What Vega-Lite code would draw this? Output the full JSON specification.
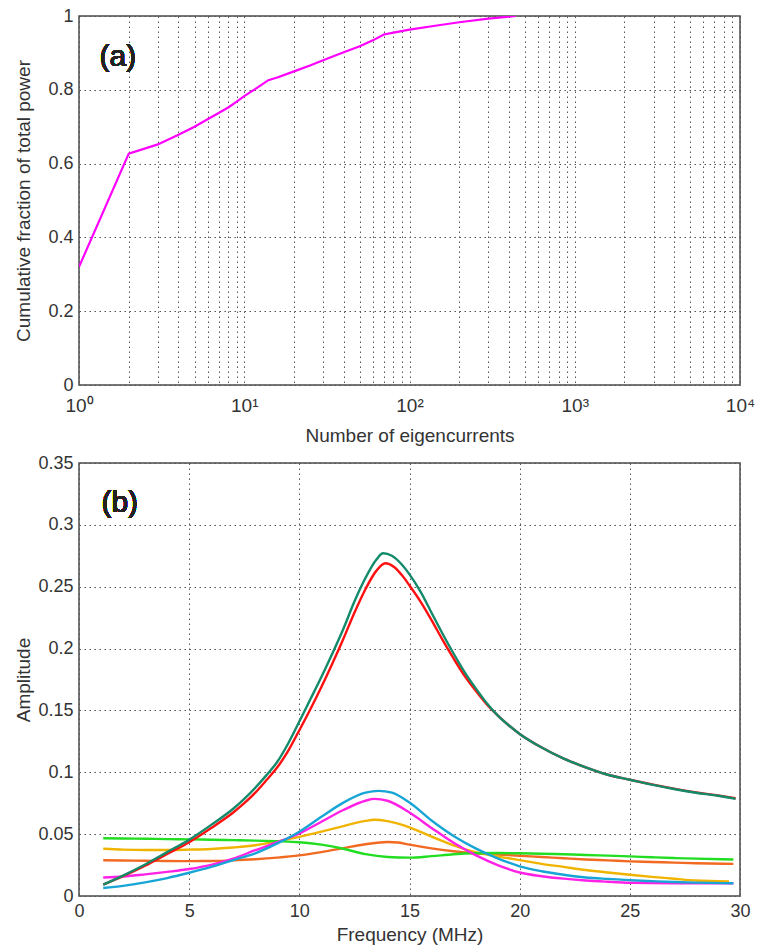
{
  "$schema": "https://vega.github.io/schema/vega-lite/v6.json",
  "background": "white",
  "padding": {"left": 13, "top": 6, "right": 5, "bottom": 5},
  "spacing": 7,
  "datasets": {
    "power": [
      {"n": 1, "fraction": 0.32}, {"n": 2, "fraction": 0.627}, {"n": 3, "fraction": 0.652},
      {"n": 4, "fraction": 0.678}, {"n": 5, "fraction": 0.7}, {"n": 6, "fraction": 0.72},
      {"n": 7, "fraction": 0.737}, {"n": 8, "fraction": 0.752}, {"n": 9, "fraction": 0.768},
      {"n": 10, "fraction": 0.783}, {"n": 12, "fraction": 0.806}, {"n": 14, "fraction": 0.826},
      {"n": 16, "fraction": 0.834}, {"n": 20, "fraction": 0.85}, {"n": 25, "fraction": 0.866},
      {"n": 30, "fraction": 0.88}, {"n": 40, "fraction": 0.902}, {"n": 50, "fraction": 0.918},
      {"n": 60, "fraction": 0.934}, {"n": 70, "fraction": 0.95}, {"n": 80, "fraction": 0.955},
      {"n": 100, "fraction": 0.963}, {"n": 150, "fraction": 0.975}, {"n": 200, "fraction": 0.983},
      {"n": 300, "fraction": 0.993}, {"n": 400, "fraction": 0.998}, {"n": 440, "fraction": 1.0}
    ],
    "amp": [
      {"s": "s1", "f": 1.1, "a": 0.0289}, {"s": "s1", "f": 2, "a": 0.0287}, {"s": "s1", "f": 3, "a": 0.0285}, {"s": "s1", "f": 4, "a": 0.0283}, {"s": "s1", "f": 5, "a": 0.0282}, {"s": "s1", "f": 6, "a": 0.0283}, {"s": "s1", "f": 7, "a": 0.0288}, {"s": "s1", "f": 8, "a": 0.0297}, {"s": "s1", "f": 9, "a": 0.031}, {"s": "s1", "f": 10, "a": 0.0328}, {"s": "s1", "f": 11, "a": 0.0355}, {"s": "s1", "f": 12, "a": 0.0387}, {"s": "s1", "f": 13, "a": 0.0418}, {"s": "s1", "f": 14, "a": 0.0437}, {"s": "s1", "f": 14.5, "a": 0.0432}, {"s": "s1", "f": 15, "a": 0.0415}, {"s": "s1", "f": 16, "a": 0.0385}, {"s": "s1", "f": 17, "a": 0.0362}, {"s": "s1", "f": 18, "a": 0.0345}, {"s": "s1", "f": 19, "a": 0.0335}, {"s": "s1", "f": 20, "a": 0.0325}, {"s": "s1", "f": 21, "a": 0.0315}, {"s": "s1", "f": 22, "a": 0.0305}, {"s": "s1", "f": 23, "a": 0.0295}, {"s": "s1", "f": 24, "a": 0.0288}, {"s": "s1", "f": 25, "a": 0.028}, {"s": "s1", "f": 26, "a": 0.0275}, {"s": "s1", "f": 27, "a": 0.027}, {"s": "s1", "f": 28, "a": 0.0265}, {"s": "s1", "f": 29.7, "a": 0.026},
      {"s": "s2", "f": 1.1, "a": 0.0382}, {"s": "s2", "f": 2, "a": 0.0375}, {"s": "s2", "f": 3, "a": 0.0372}, {"s": "s2", "f": 4, "a": 0.0372}, {"s": "s2", "f": 5, "a": 0.0375}, {"s": "s2", "f": 6, "a": 0.038}, {"s": "s2", "f": 7, "a": 0.0392}, {"s": "s2", "f": 8, "a": 0.041}, {"s": "s2", "f": 9, "a": 0.0442}, {"s": "s2", "f": 10, "a": 0.0478}, {"s": "s2", "f": 11, "a": 0.052}, {"s": "s2", "f": 12, "a": 0.0565}, {"s": "s2", "f": 13, "a": 0.0607}, {"s": "s2", "f": 13.4, "a": 0.0616}, {"s": "s2", "f": 14, "a": 0.0605}, {"s": "s2", "f": 15, "a": 0.0555}, {"s": "s2", "f": 16, "a": 0.048}, {"s": "s2", "f": 17, "a": 0.041}, {"s": "s2", "f": 18, "a": 0.0355}, {"s": "s2", "f": 19, "a": 0.032}, {"s": "s2", "f": 20, "a": 0.029}, {"s": "s2", "f": 21, "a": 0.026}, {"s": "s2", "f": 22, "a": 0.0235}, {"s": "s2", "f": 23, "a": 0.021}, {"s": "s2", "f": 24, "a": 0.019}, {"s": "s2", "f": 25, "a": 0.0172}, {"s": "s2", "f": 26, "a": 0.0155}, {"s": "s2", "f": 27, "a": 0.014}, {"s": "s2", "f": 28, "a": 0.0125}, {"s": "s2", "f": 29.5, "a": 0.0117},
      {"s": "s3", "f": 1.1, "a": 0.0467}, {"s": "s3", "f": 2, "a": 0.0465}, {"s": "s3", "f": 3, "a": 0.0463}, {"s": "s3", "f": 4, "a": 0.046}, {"s": "s3", "f": 5, "a": 0.0458}, {"s": "s3", "f": 6, "a": 0.0455}, {"s": "s3", "f": 7, "a": 0.0452}, {"s": "s3", "f": 8, "a": 0.0448}, {"s": "s3", "f": 9, "a": 0.0443}, {"s": "s3", "f": 10, "a": 0.0435}, {"s": "s3", "f": 11, "a": 0.0415}, {"s": "s3", "f": 12, "a": 0.0382}, {"s": "s3", "f": 13, "a": 0.0338}, {"s": "s3", "f": 14, "a": 0.0315}, {"s": "s3", "f": 15, "a": 0.031}, {"s": "s3", "f": 16, "a": 0.0322}, {"s": "s3", "f": 17, "a": 0.0337}, {"s": "s3", "f": 18, "a": 0.0345}, {"s": "s3", "f": 19, "a": 0.0347}, {"s": "s3", "f": 20, "a": 0.0345}, {"s": "s3", "f": 21, "a": 0.0342}, {"s": "s3", "f": 22, "a": 0.0337}, {"s": "s3", "f": 23, "a": 0.0332}, {"s": "s3", "f": 24, "a": 0.0326}, {"s": "s3", "f": 25, "a": 0.032}, {"s": "s3", "f": 26, "a": 0.0313}, {"s": "s3", "f": 27, "a": 0.0307}, {"s": "s3", "f": 28, "a": 0.0302}, {"s": "s3", "f": 29.7, "a": 0.0295},
      {"s": "s4", "f": 1.1, "a": 0.015}, {"s": "s4", "f": 2, "a": 0.0158}, {"s": "s4", "f": 3, "a": 0.0175}, {"s": "s4", "f": 4, "a": 0.0195}, {"s": "s4", "f": 5, "a": 0.0218}, {"s": "s4", "f": 6, "a": 0.0252}, {"s": "s4", "f": 7, "a": 0.0302}, {"s": "s4", "f": 8, "a": 0.037}, {"s": "s4", "f": 9, "a": 0.0435}, {"s": "s4", "f": 10, "a": 0.0505}, {"s": "s4", "f": 11, "a": 0.06}, {"s": "s4", "f": 12, "a": 0.0695}, {"s": "s4", "f": 13, "a": 0.077}, {"s": "s4", "f": 13.4, "a": 0.0785}, {"s": "s4", "f": 14, "a": 0.077}, {"s": "s4", "f": 15, "a": 0.0675}, {"s": "s4", "f": 16, "a": 0.055}, {"s": "s4", "f": 17, "a": 0.043}, {"s": "s4", "f": 18, "a": 0.033}, {"s": "s4", "f": 19, "a": 0.025}, {"s": "s4", "f": 20, "a": 0.019}, {"s": "s4", "f": 21, "a": 0.016}, {"s": "s4", "f": 22, "a": 0.014}, {"s": "s4", "f": 23, "a": 0.0125}, {"s": "s4", "f": 24, "a": 0.0115}, {"s": "s4", "f": 25, "a": 0.0107}, {"s": "s4", "f": 27, "a": 0.0103}, {"s": "s4", "f": 29.7, "a": 0.0103},
      {"s": "s5", "f": 1.1, "a": 0.0065}, {"s": "s5", "f": 2, "a": 0.0082}, {"s": "s5", "f": 3, "a": 0.011}, {"s": "s5", "f": 4, "a": 0.0145}, {"s": "s5", "f": 5, "a": 0.0188}, {"s": "s5", "f": 6, "a": 0.0235}, {"s": "s5", "f": 7, "a": 0.029}, {"s": "s5", "f": 8, "a": 0.0345}, {"s": "s5", "f": 9, "a": 0.0425}, {"s": "s5", "f": 10, "a": 0.052}, {"s": "s5", "f": 11, "a": 0.064}, {"s": "s5", "f": 12, "a": 0.0755}, {"s": "s5", "f": 13, "a": 0.0835}, {"s": "s5", "f": 13.6, "a": 0.085}, {"s": "s5", "f": 14.2, "a": 0.0835}, {"s": "s5", "f": 15, "a": 0.0755}, {"s": "s5", "f": 16, "a": 0.061}, {"s": "s5", "f": 17, "a": 0.0485}, {"s": "s5", "f": 18, "a": 0.0385}, {"s": "s5", "f": 19, "a": 0.0305}, {"s": "s5", "f": 20, "a": 0.024}, {"s": "s5", "f": 21, "a": 0.02}, {"s": "s5", "f": 22, "a": 0.0172}, {"s": "s5", "f": 23, "a": 0.015}, {"s": "s5", "f": 24, "a": 0.0138}, {"s": "s5", "f": 25, "a": 0.0128}, {"s": "s5", "f": 26, "a": 0.012}, {"s": "s5", "f": 27, "a": 0.0113}, {"s": "s5", "f": 28, "a": 0.0108}, {"s": "s5", "f": 29.7, "a": 0.0103},
      {"s": "s6", "f": 1.1, "a": 0.0092}, {"s": "s6", "f": 2, "a": 0.016}, {"s": "s6", "f": 3, "a": 0.0245}, {"s": "s6", "f": 4, "a": 0.034}, {"s": "s6", "f": 5, "a": 0.0435}, {"s": "s6", "f": 6, "a": 0.055}, {"s": "s6", "f": 7, "a": 0.0675}, {"s": "s6", "f": 7.5, "a": 0.075}, {"s": "s6", "f": 8, "a": 0.0835}, {"s": "s6", "f": 8.5, "a": 0.0935}, {"s": "s6", "f": 9, "a": 0.104}, {"s": "s6", "f": 9.5, "a": 0.1175}, {"s": "s6", "f": 10, "a": 0.134}, {"s": "s6", "f": 10.5, "a": 0.151}, {"s": "s6", "f": 11, "a": 0.169}, {"s": "s6", "f": 11.5, "a": 0.188}, {"s": "s6", "f": 12, "a": 0.208}, {"s": "s6", "f": 12.5, "a": 0.229}, {"s": "s6", "f": 13, "a": 0.248}, {"s": "s6", "f": 13.5, "a": 0.263}, {"s": "s6", "f": 13.9, "a": 0.269}, {"s": "s6", "f": 14.3, "a": 0.266}, {"s": "s6", "f": 14.67, "a": 0.259}, {"s": "s6", "f": 15, "a": 0.251}, {"s": "s6", "f": 15.5, "a": 0.238}, {"s": "s6", "f": 16, "a": 0.223}, {"s": "s6", "f": 16.5, "a": 0.207}, {"s": "s6", "f": 17, "a": 0.192}, {"s": "s6", "f": 17.5, "a": 0.178}, {"s": "s6", "f": 18, "a": 0.166}, {"s": "s6", "f": 18.5, "a": 0.155}, {"s": "s6", "f": 19, "a": 0.146}, {"s": "s6", "f": 19.5, "a": 0.138}, {"s": "s6", "f": 20, "a": 0.131}, {"s": "s6", "f": 21, "a": 0.12}, {"s": "s6", "f": 22, "a": 0.111}, {"s": "s6", "f": 23, "a": 0.104}, {"s": "s6", "f": 24, "a": 0.098}, {"s": "s6", "f": 25, "a": 0.094}, {"s": "s6", "f": 26, "a": 0.0902}, {"s": "s6", "f": 27, "a": 0.0868}, {"s": "s6", "f": 28, "a": 0.0838}, {"s": "s6", "f": 29, "a": 0.0812}, {"s": "s6", "f": 29.8, "a": 0.079},
      {"s": "s7", "f": 1.1, "a": 0.0092}, {"s": "s7", "f": 2, "a": 0.0165}, {"s": "s7", "f": 3, "a": 0.0255}, {"s": "s7", "f": 4, "a": 0.0355}, {"s": "s7", "f": 5, "a": 0.0455}, {"s": "s7", "f": 6, "a": 0.0575}, {"s": "s7", "f": 7, "a": 0.0705}, {"s": "s7", "f": 7.5, "a": 0.0785}, {"s": "s7", "f": 8, "a": 0.0875}, {"s": "s7", "f": 8.5, "a": 0.0975}, {"s": "s7", "f": 9, "a": 0.1085}, {"s": "s7", "f": 9.5, "a": 0.1235}, {"s": "s7", "f": 10, "a": 0.141}, {"s": "s7", "f": 10.5, "a": 0.159}, {"s": "s7", "f": 11, "a": 0.177}, {"s": "s7", "f": 11.5, "a": 0.196}, {"s": "s7", "f": 12, "a": 0.216}, {"s": "s7", "f": 12.5, "a": 0.238}, {"s": "s7", "f": 13, "a": 0.257}, {"s": "s7", "f": 13.5, "a": 0.272}, {"s": "s7", "f": 13.8, "a": 0.277}, {"s": "s7", "f": 14.2, "a": 0.275}, {"s": "s7", "f": 14.67, "a": 0.2675}, {"s": "s7", "f": 15, "a": 0.26}, {"s": "s7", "f": 15.5, "a": 0.246}, {"s": "s7", "f": 16, "a": 0.229}, {"s": "s7", "f": 16.5, "a": 0.212}, {"s": "s7", "f": 17, "a": 0.196}, {"s": "s7", "f": 17.5, "a": 0.181}, {"s": "s7", "f": 18, "a": 0.168}, {"s": "s7", "f": 18.5, "a": 0.156}, {"s": "s7", "f": 19, "a": 0.146}, {"s": "s7", "f": 19.5, "a": 0.138}, {"s": "s7", "f": 20, "a": 0.131}, {"s": "s7", "f": 21, "a": 0.12}, {"s": "s7", "f": 22, "a": 0.111}, {"s": "s7", "f": 23, "a": 0.104}, {"s": "s7", "f": 24, "a": 0.098}, {"s": "s7", "f": 25, "a": 0.094}, {"s": "s7", "f": 26, "a": 0.09}, {"s": "s7", "f": 27, "a": 0.0865}, {"s": "s7", "f": 28, "a": 0.0835}, {"s": "s7", "f": 29, "a": 0.081}, {"s": "s7", "f": 29.8, "a": 0.0785}
    ]
  },
  "config": {
    "font": "Liberation Sans",
    "view": {"stroke": "#4a4a4a", "strokeWidth": 1.5},
    "axis": {
      "labelFont": "Liberation Sans", "labelFontSize": 18, "labelColor": "#333333",
      "titleFont": "Liberation Sans", "titleFontSize": 19, "titleFontWeight": "normal", "titleColor": "#333333",
      "domain": false, "ticks": false, "grid": true, "gridColor": "#555555", "gridDash": [1.5, 3.5],
      "gridWidth": 1, "labelFlush": false, "labelOverlap": false, "labelBound": false
    },
    "axisY": {"labelPadding": 6, "minExtent": 40, "maxExtent": 40, "titlePadding": 5.5},
    "axisX": {"labelPadding": 6}
  },
  "vconcat": [
    {
      "width": 661,
      "height": 369,
      "data": {"name": "power"},
      "layer": [
        {
          "mark": {"type": "line", "color": "#ff00ff", "strokeWidth": 2.2, "clip": true},
          "encoding": {
            "x": {
              "field": "n", "type": "quantitative",
              "scale": {"type": "log", "domain": [1, 10000], "nice": false},
              "axis": {
                "title": "Number of eigencurrents",
                "values": [1,2,3,4,5,6,7,8,9,10,20,30,40,50,60,70,80,90,100,200,300,400,500,600,700,800,900,1000,2000,3000,4000,5000,6000,7000,8000,9000,10000],
                "labelExpr": "datum.value == 1 ? '10⁰' : datum.value == 10 ? '10¹' : datum.value == 100 ? '10²' : datum.value == 1000 ? '10³' : datum.value == 10000 ? '10⁴' : ''",
                "labelFontSize": 19, "labelPadding": 11,
                "minExtent": 30, "maxExtent": 30, "titlePadding": 11
              }
            },
            "y": {
              "field": "fraction", "type": "quantitative",
              "scale": {"domain": [0, 1], "nice": false},
              "axis": {"title": "Cumulative fraction of total power", "values": [0, 0.2, 0.4, 0.6, 0.8, 1], "format": ".1~f"}
            }
          }
        },
        {
          "mark": {"type": "text", "text": "(a)", "font": "Liberation Sans", "fontWeight": "normal", "fontSize": 30, "color": "#222222", "align": "center", "baseline": "middle"},
          "encoding": {
            "x": {"datum": 1.72, "type": "quantitative"},
            "y": {"datum": 0.89, "type": "quantitative"}
          }
        }
      ]
    },
    {
      "width": 661,
      "height": 433,
      "data": {"name": "amp"},
      "layer": [
        {
          "mark": {"type": "line", "strokeWidth": 2.4, "interpolate": "monotone"},
          "encoding": {
            "x": {
              "field": "f", "type": "quantitative",
              "scale": {"domain": [0, 30], "nice": false},
              "axis": {"title": "Frequency (MHz)", "values": [0, 5, 10, 15, 20, 25, 30], "minExtent": 24, "maxExtent": 24, "titlePadding": 5.5}
            },
            "y": {
              "field": "a", "type": "quantitative",
              "scale": {"domain": [0, 0.35], "nice": false},
              "axis": {"title": "Amplitude", "values": [0, 0.05, 0.1, 0.15, 0.2, 0.25, 0.3, 0.35], "format": ".2~f"}
            },
            "color": {
              "field": "s", "type": "nominal",
              "scale": {"domain": ["s1", "s2", "s3", "s4", "s5", "s6", "s7"], "range": ["#f26a21", "#f0b400", "#22dd22", "#ff22e6", "#17a5d6", "#ff1010", "#138a6a"]},
              "legend": null
            },
            "order": {"field": "f", "type": "quantitative"}
          }
        },
        {
          "mark": {"type": "text", "text": "(b)", "font": "Liberation Sans", "fontWeight": "normal", "fontSize": 30, "color": "#222222", "align": "center", "baseline": "middle"},
          "encoding": {
            "x": {"datum": 1.85, "type": "quantitative"},
            "y": {"datum": 0.318, "type": "quantitative"}
          }
        }
      ]
    }
  ]
}
